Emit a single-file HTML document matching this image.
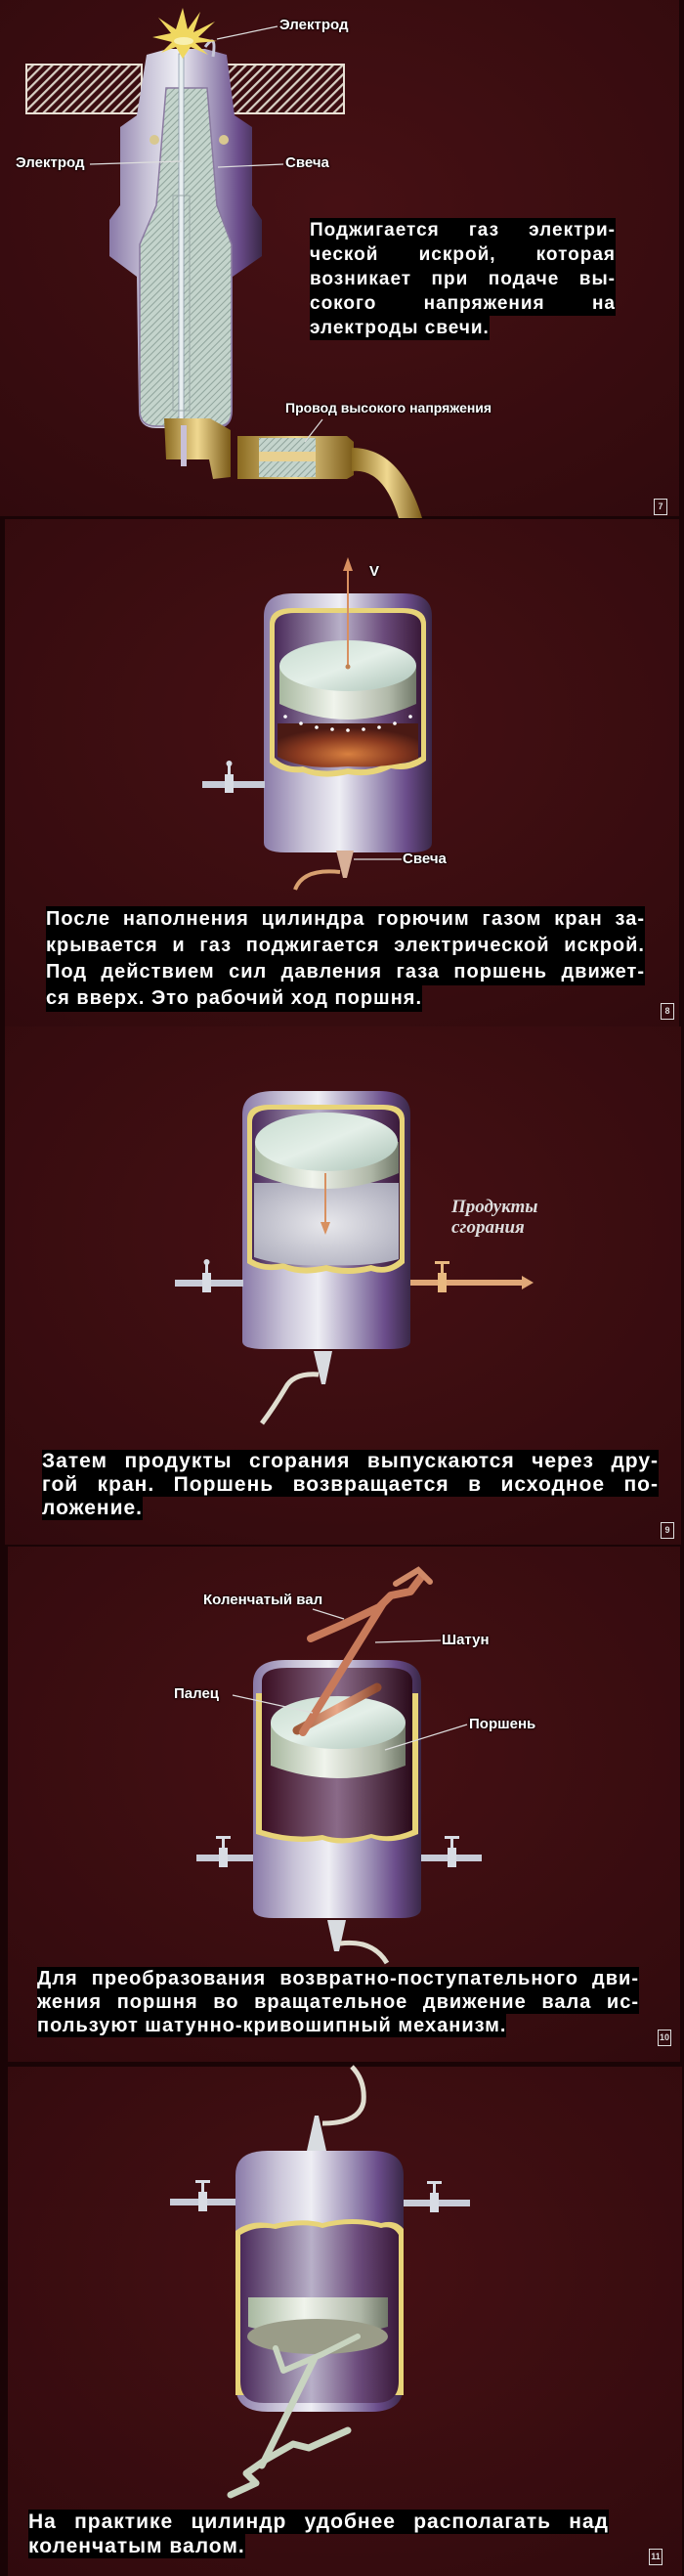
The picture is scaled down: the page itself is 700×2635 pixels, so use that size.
<!DOCTYPE html>
<html><head><meta charset="utf-8">
<style>
html,body{margin:0;padding:0;background:#1a0406;}
#w{position:relative;width:700px;height:2635px;overflow:hidden;background:#1a0406;}
svg{position:absolute;left:0;top:0;}
.tx{position:absolute;font-family:"Liberation Sans",sans-serif;font-weight:bold;color:#fff;letter-spacing:1px;}
.tx div{background:#000;text-align:justify;text-align-last:justify;white-space:nowrap;overflow:hidden;}
.tx div.l{text-align-last:left;display:inline-block;}
.lb{position:absolute;font-family:"Liberation Sans",sans-serif;font-weight:bold;color:#fff;font-size:15px;text-shadow:0 0 2px #000,0 0 2px #000;white-space:nowrap;}
.nb{position:absolute;width:12px;height:15px;border:1.5px solid #ddd;font:bold 9px "Liberation Sans",sans-serif;color:#ddd;text-align:center;line-height:15px;}
.it{position:absolute;font-family:"Liberation Serif",serif;font-style:italic;font-weight:bold;color:#ddd;font-size:19px;line-height:21px;}
</style></head><body><div id="w">
<svg width="700" height="2635" viewBox="0 0 700 2635">
<defs>
<radialGradient id="bg" cx="0.5" cy="0.4" r="0.8"><stop offset="0" stop-color="#461014"/><stop offset="1" stop-color="#300a0d"/></radialGradient>
<pattern id="hat" width="7" height="7" patternUnits="userSpaceOnUse" patternTransform="rotate(45)"><rect width="7" height="7" fill="#3a0c10"/><rect width="2.2" height="7" fill="#d8d0c4"/></pattern>
<pattern id="hat2" width="5" height="5" patternUnits="userSpaceOnUse" patternTransform="rotate(45)"><rect width="5" height="5" fill="#c4d4cc"/><rect width="1" height="5" fill="#90a49c"/></pattern>
<linearGradient id="cyl" x1="0" x2="1"><stop offset="0" stop-color="#8a7aa8"/><stop offset="0.25" stop-color="#c9c4d8"/><stop offset="0.45" stop-color="#eeeef4"/><stop offset="0.7" stop-color="#9a8cb4"/><stop offset="0.85" stop-color="#6a4c8a"/><stop offset="1" stop-color="#3a2848"/></linearGradient>
<linearGradient id="inn" x1="0" x2="1"><stop offset="0" stop-color="#4a2a5a"/><stop offset="0.45" stop-color="#b8b0c8"/><stop offset="0.75" stop-color="#6a4a7a"/><stop offset="1" stop-color="#3a1a3a"/></linearGradient>
<linearGradient id="inn4" x1="0" x2="1"><stop offset="0" stop-color="#3a0e22"/><stop offset="0.5" stop-color="#8a6a88"/><stop offset="1" stop-color="#2a0a1a"/></linearGradient>
<linearGradient id="pis" x1="0" x2="1"><stop offset="0" stop-color="#a8b8a0"/><stop offset="0.4" stop-color="#f0f4ec"/><stop offset="0.8" stop-color="#b0b8a8"/><stop offset="1" stop-color="#707868"/></linearGradient>
<linearGradient id="pisT" x1="0" y1="0" x2="1" y2="1"><stop offset="0" stop-color="#c8dcd0"/><stop offset="0.5" stop-color="#e4efe8"/><stop offset="1" stop-color="#a8c0b4"/></linearGradient>
<linearGradient id="gold" x1="0" x2="1"><stop offset="0" stop-color="#8a6a20"/><stop offset="0.5" stop-color="#f0d890"/><stop offset="1" stop-color="#7a5a18"/></linearGradient>
<linearGradient id="cop" x1="0" x2="1"><stop offset="0" stop-color="#a05a3a"/><stop offset="0.5" stop-color="#e8a888"/><stop offset="1" stop-color="#904a30"/></linearGradient>
<radialGradient id="fl" cx="0.5" cy="0.7" r="0.6"><stop offset="0" stop-color="#d88040"/><stop offset="0.6" stop-color="#8a3a20"/><stop offset="1" stop-color="#4a1a14"/></radialGradient>
<radialGradient id="sm" cx="0.5" cy="0.5" r="0.7"><stop offset="0" stop-color="#e8e8ec"/><stop offset="1" stop-color="#a8a8b8"/></radialGradient>
</defs>
<rect x="0" y="0" width="695" height="528" fill="url(#bg)"/>
<rect x="5" y="531" width="690" height="522" fill="url(#bg)"/>
<rect x="5" y="1050" width="692" height="530" fill="url(#bg)"/>
<rect x="8" y="1582" width="688" height="527" fill="url(#bg)"/>
<rect x="8" y="2114" width="690" height="521" fill="url(#bg)"/>

<rect x="27" y="66" width="118" height="50" fill="url(#hat)" stroke="#e8e0d4" stroke-width="2"/>
<rect x="230" y="66" width="122" height="50" fill="url(#hat)" stroke="#e8e0d4" stroke-width="2"/>
<path d="M123 130 L123 210 L112 225 L112 262 L140 283 L142 420 Q142 438 160 438 L222 438 Q238 438 238 420 L238 283 L268 262 L268 225 L258 210 L258 130 L240 118 L232 56 L210 50 L172 50 L150 56 L140 118 Z" fill="url(#cyl)"/>
<path d="M143 250 L143 420 Q143 436 160 436 L222 436 Q237 436 237 420 L237 250 L222 210 L212 90 L170 90 L160 210 Z" fill="url(#hat2)" stroke="#8a7aa0" stroke-width="1.5"/>
<rect x="183" y="55" width="5" height="380" fill="#e8eef0" stroke="#8a98a8" stroke-width="0.8"/>
<rect x="177" y="200" width="17" height="220" fill="none" stroke="#9aa8a8" stroke-width="1"/>
<circle cx="158" cy="143" r="5" fill="#d8c890"/><circle cx="229" cy="143" r="5" fill="#d8c890"/>
<path d="M210 48 Q222 32 218 58" fill="none" stroke="#c8c8d8" stroke-width="3"/>
<polygon points="187,8 192,30 205,12 198,33 220,22 203,38 222,42 200,44 213,56 195,48 187,60 180,48 165,54 176,43 156,38 175,34 162,18 180,30" fill="#f0d860"/>
<ellipse cx="188" cy="42" rx="10" ry="4" fill="#f8f0b0"/>
<path d="M168 428 L215 428 L236 440 L236 488 L218 490 L214 470 L170 470 Z" fill="url(#gold)"/>
<rect x="185" y="435" width="6" height="42" fill="#c8c0d8"/>
<path d="M243 446 L355 446 L362 452 L362 486 L355 490 L243 490 Z" fill="url(#gold)"/>
<rect x="265" y="448" width="58" height="40" fill="url(#hat2)"/>
<rect x="265" y="462" width="58" height="10" fill="#e8d090"/>
<path d="M360 458 Q410 458 432 530 L408 530 Q392 478 360 482 Z" fill="url(#gold)"/>
<line x1="222" y1="40" x2="284" y2="27" stroke="#ddd" stroke-width="1.2"/>
<line x1="92" y1="168" x2="186" y2="165" stroke="#ddd" stroke-width="1.2"/>
<line x1="223" y1="171" x2="290" y2="168" stroke="#ddd" stroke-width="1.2"/>
<line x1="330" y1="429" x2="312" y2="452" stroke="#ddd" stroke-width="1.2"/>

<path d="M270 630 Q270 607 300 607 L412 607 Q442 607 442 630 L442 862 Q442 872 420 872 L292 872 Q270 872 270 862 Z" fill="url(#cyl)"/>
<path d="M276 638 Q276 622 300 622 L412 622 Q436 622 436 638 L436 778 Q420 790 400 786 Q380 796 356 792 Q330 798 310 790 Q290 792 276 780 Z" fill="#e8d478"/>
<path d="M281 640 Q281 627 302 627 L410 627 Q431 627 431 640 L431 774 Q415 784 398 780 Q378 790 356 786 Q330 792 310 784 Q292 786 281 775 Z" fill="url(#inn)"/>
<path d="M284 740 L428 740 L428 776 Q400 786 356 784 Q310 788 284 774 Z" fill="url(#fl)"/>
<path d="M286 681 L286 720 Q356 752 426 720 L426 681 Z" fill="url(#pis)"/>
<ellipse cx="356" cy="681" rx="70" ry="26" fill="url(#pisT)"/>
<g fill="#fff"><circle cx="292" cy="733" r="1.8"/><circle cx="308" cy="740" r="1.8"/><circle cx="324" cy="744" r="1.8"/><circle cx="340" cy="746" r="1.8"/><circle cx="356" cy="747" r="1.8"/><circle cx="372" cy="746" r="1.8"/><circle cx="388" cy="744" r="1.8"/><circle cx="404" cy="740" r="1.8"/><circle cx="420" cy="733" r="1.8"/></g>
<line x1="356" y1="682" x2="356" y2="582" stroke="#d89060" stroke-width="2"/>
<polygon points="351,584 356,570 361,584" fill="#d89060"/>
<circle cx="356" cy="682" r="2.5" fill="#c08050"/>
<rect x="207" y="799" width="64" height="7" fill="#c8ccd8"/>
<rect x="230" y="792" width="9" height="19" fill="#d8dce4"/>
<rect x="233" y="781" width="3" height="12" fill="#d8dce4"/><circle cx="234.5" cy="781" r="3" fill="#d8dce4"/>
<path d="M344 870 L362 870 L355 898 L351 898 Z" fill="#d8b098"/>
<path d="M348 892 Q310 888 302 910" fill="none" stroke="#d8a070" stroke-width="4"/>
<line x1="362" y1="879" x2="411" y2="879" stroke="#ddd" stroke-width="1.2"/>

<path d="M248 1140 Q248 1116 280 1116 L388 1116 Q420 1116 420 1140 L420 1372 Q420 1380 398 1380 L270 1380 Q248 1380 248 1372 Z" fill="url(#cyl)"/>
<path d="M253 1145 Q253 1130 276 1130 L392 1130 Q414 1130 414 1145 L414 1292 Q398 1306 380 1300 Q355 1306 334 1300 Q308 1306 290 1298 Q268 1302 253 1292 Z" fill="#e8d478"/>
<path d="M258 1148 Q258 1135 278 1135 L390 1135 Q409 1135 409 1148 L409 1288 Q396 1300 380 1294 Q355 1300 334 1294 Q308 1300 290 1292 Q270 1296 258 1288 Z" fill="url(#inn)"/>
<path d="M260 1210 L408 1210 L408 1288 Q380 1296 334 1294 Q290 1296 260 1286 Z" fill="url(#sm)"/>
<path d="M261 1168 L261 1200 Q334 1232 408 1200 L408 1168 Z" fill="url(#pis)"/>
<ellipse cx="334" cy="1168" rx="73" ry="30" fill="url(#pisT)"/>
<line x1="333" y1="1200" x2="333" y2="1252" stroke="#d89060" stroke-width="2"/>
<polygon points="328,1250 333,1263 338,1250" fill="#d89060"/>
<rect x="179" y="1309" width="70" height="7" fill="#c8ccd8"/>
<rect x="207" y="1302" width="9" height="20" fill="#d8dce4"/>
<rect x="210" y="1291" width="3" height="12" fill="#d8dce4"/><circle cx="211.5" cy="1291" r="3" fill="#d8dce4"/>
<rect x="420" y="1309" width="116" height="6" fill="#e0a878"/>
<polygon points="534,1305 546,1312 534,1319" fill="#e0a878"/>
<rect x="448" y="1302" width="9" height="20" fill="#e8b880"/>
<rect x="451" y="1291" width="3" height="12" fill="#e8b880"/><rect x="445" y="1290" width="15" height="3" fill="#e8b880"/>
<path d="M321 1382 L340 1382 L333 1416 L329 1416 Z" fill="#d8dce0"/>
<path d="M326 1406 Q300 1404 292 1420 Q280 1440 268 1456" fill="none" stroke="#e0ddd0" stroke-width="5"/>

<path d="M259 1722 Q259 1698 292 1698 L398 1698 Q431 1698 431 1722 L431 1952 Q431 1962 410 1962 L280 1962 Q259 1962 259 1952 Z" fill="url(#cyl)"/>
<path d="M262 1732 L428 1732 L428 1876 Q400 1888 380 1880 Q350 1890 330 1882 Q300 1888 262 1876 Z" fill="#e8d478"/>
<path d="M268 1720 Q268 1706 294 1706 L396 1706 Q422 1706 422 1720 L422 1872 Q400 1882 380 1876 Q350 1884 330 1877 Q300 1882 268 1872 Z" fill="url(#inn4)"/>
<path d="M277 1762 L277 1806 Q346 1832 415 1806 L415 1762 Z" fill="url(#pis)"/>
<ellipse cx="346" cy="1762" rx="69" ry="27" fill="url(#pisT)"/>
<path d="M304 1770 L386 1726" stroke="url(#cop)" stroke-width="9" stroke-linecap="round"/>
<path d="M310 1772 L392 1640" stroke="#c87a5a" stroke-width="8" stroke-linecap="round"/>
<path d="M318 1676 L350 1662 L388 1644 L400 1632 L420 1628 L432 1612" fill="none" stroke="#c87a5a" stroke-width="8" stroke-linecap="round" stroke-linejoin="round"/>
<path d="M405 1620 L428 1606 L440 1618" fill="none" stroke="#d08a68" stroke-width="6" stroke-linecap="round"/>
<rect x="201" y="1897" width="58" height="7" fill="#c8ccd8"/>
<rect x="224" y="1890" width="9" height="20" fill="#d8dce4"/>
<rect x="227" y="1879" width="3" height="12" fill="#d8dce4"/><rect x="221" y="1878" width="15" height="3" fill="#d8dce4"/>
<rect x="431" y="1897" width="62" height="7" fill="#c8ccd8"/>
<rect x="458" y="1890" width="9" height="20" fill="#d8dce4"/>
<rect x="461" y="1879" width="3" height="12" fill="#d8dce4"/><rect x="455" y="1878" width="15" height="3" fill="#d8dce4"/>
<path d="M335 1964 L354 1964 L347 1996 L342 1996 Z" fill="#d8dce0"/>
<path d="M348 1988 Q382 1984 396 2008" fill="none" stroke="#e0ddd0" stroke-width="5"/>
<line x1="320" y1="1646" x2="352" y2="1656" stroke="#ddd" stroke-width="1.2"/>
<line x1="384" y1="1680" x2="451" y2="1678" stroke="#ddd" stroke-width="1.2"/>
<line x1="238" y1="1734" x2="320" y2="1752" stroke="#ddd" stroke-width="1.2"/>
<line x1="478" y1="1764" x2="394" y2="1790" stroke="#ddd" stroke-width="1.2"/>

<path d="M241 2225 Q241 2200 274 2200 L380 2200 Q413 2200 413 2225 L413 2440 Q413 2467 380 2467 L274 2467 Q241 2467 241 2440 Z" fill="url(#cyl)"/>
<path d="M241 2282 Q256 2270 280 2275 Q310 2268 330 2274 Q360 2266 390 2274 Q405 2270 413 2280 L413 2450 L241 2450 Z" fill="#e8d478"/>
<path d="M246 2286 Q262 2276 282 2280 Q310 2273 330 2279 Q360 2271 390 2279 Q402 2276 408 2286 L408 2436 Q408 2458 384 2458 L270 2458 Q246 2458 246 2436 Z" fill="url(#inn)"/>
<path d="M254 2350 L397 2350 L397 2380 Q325 2400 254 2380 Z" fill="url(#pis)"/>
<ellipse cx="325" cy="2390" rx="72" ry="18" fill="#9a9c88"/>
<path d="M366 2390 L330 2408 L290 2425 L282 2402" fill="none" stroke="#c8d4c0" stroke-width="6" stroke-linecap="round" stroke-linejoin="round"/>
<path d="M322 2412 L268 2522" stroke="#c8d4c0" stroke-width="7" stroke-linecap="round"/>
<path d="M236 2552 L262 2540 L252 2530 L272 2516 L300 2500 L316 2504 L356 2486" fill="none" stroke="#c8d4c0" stroke-width="7" stroke-linecap="round" stroke-linejoin="round"/>
<rect x="174" y="2249" width="67" height="7" fill="#c8ccd8"/>
<rect x="203" y="2242" width="9" height="20" fill="#d8dce4"/>
<rect x="206" y="2231" width="3" height="12" fill="#d8dce4"/><rect x="200" y="2230" width="15" height="3" fill="#d8dce4"/>
<rect x="413" y="2250" width="68" height="7" fill="#c8ccd8"/>
<rect x="440" y="2243" width="9" height="20" fill="#d8dce4"/>
<rect x="443" y="2232" width="3" height="12" fill="#d8dce4"/><rect x="437" y="2231" width="15" height="3" fill="#d8dce4"/>
<path d="M314 2200 L334 2200 L326 2164 L322 2164 Z" fill="#d8dce0"/>
<path d="M330 2172 Q368 2172 372 2150 Q374 2128 360 2114" fill="none" stroke="#e0ddd0" stroke-width="5"/>
</svg>

<div class="lb" style="left:286px;top:17px;">Электрод</div>
<div class="lb" style="left:16px;top:158px;">Электрод</div>
<div class="lb" style="left:292px;top:158px;">Свеча</div>
<div class="lb" style="left:292px;top:409px;font-size:14px;">Провод высокого напряжения</div>
<div class="tx" style="left:317px;top:223px;width:313px;font-size:19px;line-height:25px;">
<div>Поджигается газ электри-</div><div>ческой искрой, которая</div><div>возникает при подаче вы-</div><div>сокого напряжения на</div><div class="l">электроды свечи.</div></div>
<div class="nb" style="left:669px;top:510px;">7</div>

<div class="lb" style="left:378px;top:576px;">V</div>
<div class="lb" style="left:412px;top:870px;">Свеча</div>
<div class="tx" style="left:47px;top:927px;width:613px;font-size:20px;line-height:27px;">
<div>После наполнения цилиндра горючим газом кран за-</div><div>крывается и газ поджигается электрической искрой.</div><div>Под действием сил давления газа поршень движет-</div><div class="l">ся вверх. Это рабочий ход поршня.</div></div>
<div class="nb" style="left:676px;top:1026px;">8</div>

<div class="it" style="left:462px;top:1224px;">Продукты<br>сгорания</div>
<div class="tx" style="left:43px;top:1483px;width:631px;font-size:21px;line-height:24px;">
<div>Затем продукты сгорания выпускаются через дру-</div><div>гой кран. Поршень возвращается в исходное по-</div><div class="l">ложение.</div></div>
<div class="nb" style="left:676px;top:1557px;">9</div>

<div class="lb" style="left:208px;top:1628px;">Коленчатый вал</div>
<div class="lb" style="left:452px;top:1669px;">Шатун</div>
<div class="lb" style="left:178px;top:1724px;">Палец</div>
<div class="lb" style="left:480px;top:1755px;">Поршень</div>
<div class="tx" style="left:38px;top:2012px;width:616px;font-size:20px;line-height:24px;">
<div>Для преобразования возвратно-поступательного дви-</div><div>жения поршня во вращательное движение вала ис-</div><div class="l">пользуют шатунно-кривошипный механизм.</div></div>
<div class="nb" style="left:673px;top:2076px;">10</div>

<div class="tx" style="left:29px;top:2567px;width:594px;font-size:21px;line-height:25px;">
<div>На практике цилиндр удобнее располагать над</div><div class="l">коленчатым валом.</div></div>
<div class="nb" style="left:664px;top:2607px;">11</div>
</div></body></html>
